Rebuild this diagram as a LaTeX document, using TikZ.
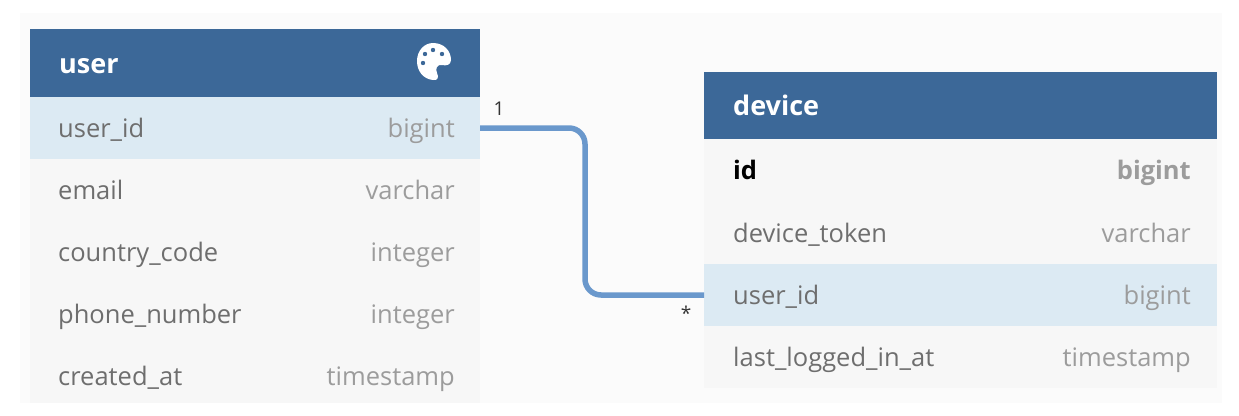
\documentclass[tikz,border=0pt]{standalone}
\usepackage{fontspec}
\setmainfont{Open Sans}
\definecolor{hdr}{HTML}{3C6898}
\definecolor{hl}{HTML}{DCEAF3}
\definecolor{rowbg}{HTML}{F7F7F7}
\definecolor{panel}{HTML}{FBFBFB}
\definecolor{nm}{HTML}{6E6E6E}
\definecolor{ty}{HTML}{9C9C9C}
\definecolor{conn}{HTML}{6A98CC}
\tikzset{
  x=1pt,y=-1pt,
  box/.style={anchor=north west,inner sep=0,outer sep=0,minimum width=#1},
  uw/.style={box=450pt},
  dw/.style={box=513pt},
  fld/.style={anchor=base west,inner sep=0,font=\fontsize{25.5}{25.5}\selectfont,text=nm},
  typ/.style={anchor=base east,inner sep=0,font=\fontsize{25.5}{25.5}\selectfont,text=ty},
  ttl/.style={anchor=base west,inner sep=0,font=\fontsize{27}{27}\selectfont\bfseries,text=white},
  card/.style={inner sep=0,font=\fontsize{19}{19}\selectfont,text=black!80},
  link/.style={draw=conn,line width=5.5pt,rounded corners=16pt},
}
\begin{document}
\begin{tikzpicture}
\useasboundingbox (0,0) rectangle (1239,415);
\fill[white] (0,0) rectangle (1239,415);
\fill[panel] (20,13) rectangle (1222,403);
% user table
\node[uw,minimum height=68pt,fill=hdr] (uh) at (30,29) {};
\node[uw,minimum height=62pt,fill=hl] (u1) at (30,97) {};
\node[uw,minimum height=62pt,fill=rowbg] (u2) at (30,159) {};
\node[uw,minimum height=62pt,fill=rowbg] (u3) at (30,221) {};
\node[uw,minimum height=62pt,fill=rowbg] (u4) at (30,283) {};
\node[uw,minimum height=58pt,fill=rowbg] (u5) at (30,345) {};
% device table
\node[dw,minimum height=67pt,fill=hdr] (dh) at (704,72) {};
\node[dw,minimum height=62pt,fill=rowbg] (d1) at (704,139) {};
\node[dw,minimum height=63pt,fill=rowbg] (d2) at (704,201) {};
\node[dw,minimum height=62pt,fill=hl] (d3) at (704,264) {};
\node[dw,minimum height=62pt,fill=rowbg] (d4) at (704,326) {};
% connector
\draw[link] (u1.east) -- ++(105,0) |- (d3.west);
\node[card] (c1) at (499,109) {1};
\node[card] (c2) at (686,313) {*};
% titles
\node[ttl] (tu) at (59,73) {user};
\node[ttl] (td) at (733,115) {device};
% palette icon
\fill[white] (433,43) .. controls (444,43) and (451,51) .. (451,60)
  .. controls (451,65) and (446,66) .. (442,65)
  .. controls (437,64) and (435,69) .. (437,73)
  .. controls (439,77) and (438,81) .. (433,80)
  .. controls (423,79) and (417,71) .. (417,61)
  .. controls (417,51) and (424,43) .. (433,43) -- cycle;
\foreach \p in {(425,54),(433,50),(442,54),(423,63)} \fill[hdr] \p circle (2.2);
% user fields
\node[fld] (f1) at (58,137) {user\_id};
\node[typ] (t1) at (455,137) {bigint};
\node[fld] (f2) at (58,199) {email};
\node[typ] (t2) at (455,199) {varchar};
\node[fld] (f3) at (58,261) {country\_code};
\node[typ] (t3) at (455,261) {integer};
\node[fld] (f4) at (58,323) {phone\_number};
\node[typ] (t4) at (455,323) {integer};
\node[fld] (f5) at (58,385) {created\_at};
\node[typ] (t5) at (455,385) {timestamp};
% device fields
\node[fld,text=black,font=\fontsize{25.5}{25.5}\selectfont\bfseries] (g1) at (733,179) {id};
\node[typ,font=\fontsize{25.5}{25.5}\selectfont\bfseries] (h1) at (1191,179) {bigint};
\node[fld] (g2) at (733,242) {device\_token};
\node[typ] (h2) at (1191,242) {varchar};
\node[fld] (g3) at (733,304) {user\_id};
\node[typ] (h3) at (1191,304) {bigint};
\node[fld] (g4) at (733,366) {last\_logged\_in\_at};
\node[typ] (h4) at (1191,366) {timestamp};
\end{tikzpicture}
\end{document}
